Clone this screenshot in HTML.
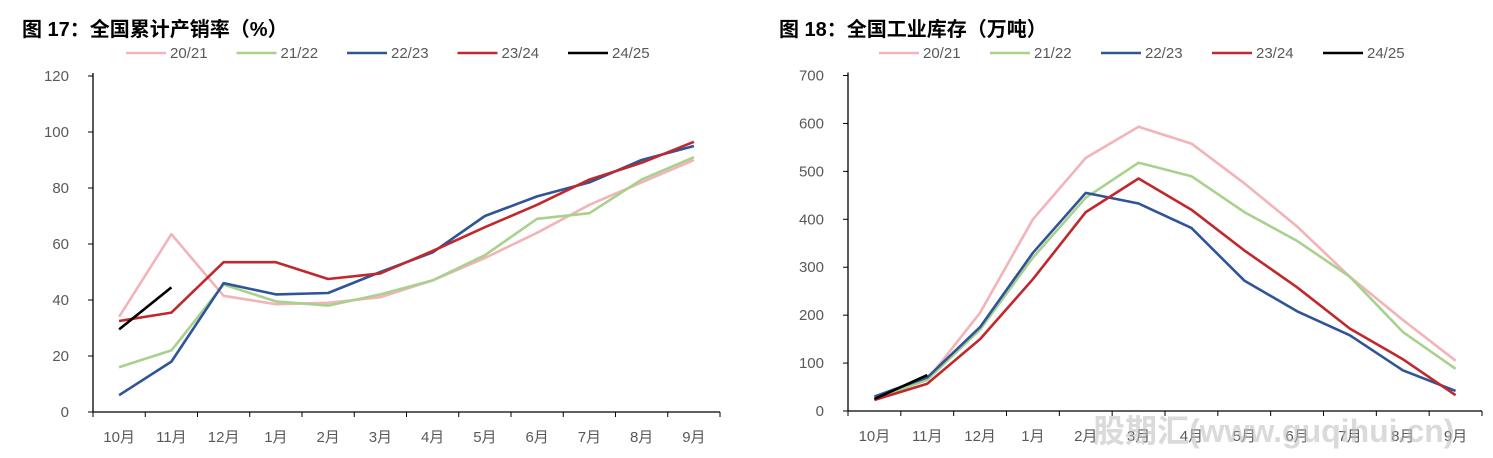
<!DOCTYPE html>
<html><head><meta charset="utf-8"><style>
html,body{margin:0;padding:0;background:#fff;}
svg{display:block;font-family:"Liberation Sans","Noto Sans CJK SC",sans-serif;}
</style></head><body>
<svg id="s" width="1493" height="458" viewBox="0 0 1493 458" xmlns="http://www.w3.org/2000/svg">
<text x="22" y="36" font-size="20" font-weight="bold" fill="#000">图 17：全国累计产销率（%）</text>
<text x="779" y="36" font-size="20" font-weight="bold" fill="#000">图 18：全国工业库存（万吨）</text>
<g id="g"></g>
<text x="1093" y="442" font-size="32" font-weight="bold" fill="#bbb" fill-opacity="0.55" font-family="'Liberation Sans','Noto Sans CJK SC',sans-serif">股期汇(www.guqihui.cn)</text>
</svg>
<script>
var NS="http://www.w3.org/2000/svg",g=document.getElementById("g");
function el(t,a,txt){var e=document.createElementNS(NS,t);for(var k in a)e.setAttribute(k,a[k]);if(txt!=null)e.textContent=txt;g.appendChild(e);return e;}
var months=["10月","11月","12月","1月","2月","3月","4月","5月","6月","7月","8月","9月"];
var cols=["#f2b4b9","#a9d18e","#2f5597","#c0282d","#000"];
var names=["20/21","21/22","22/23","23/24","24/25"];
function chart(c){
  var x0=c.x0,x1=c.x1,y0=c.y0,y1=c.y1,cw=(x1-x0)/12;
  el("line",{x1:x0,y1:y1-3,x2:x0,y2:y0,stroke:"#000","stroke-width":1.3});
  el("line",{x1:x0,y1:y0,x2:x1,y2:y0,stroke:"#000","stroke-width":1.3});
  for(var i=0;i<=12;i++){var x=x0+i*cw;el("line",{x1:x,y1:y0,x2:x,y2:y0+5,stroke:"#000","stroke-width":1});}
  for(var i=0;i<12;i++)el("text",{x:x0+(i+0.5)*cw,y:y0+30,"font-size":15,fill:"#595959","text-anchor":"middle"},months[i]);
  for(var v=0;v<=c.max;v+=c.step){var y=y0-(y0-y1)*v/c.max;
    el("line",{x1:x0-5,y1:y,x2:x0,y2:y,stroke:"#000","stroke-width":1});
    el("text",{x:x0-24,y:y+5,"font-size":15,fill:"#595959","text-anchor":"end"},v);}
  c.data.forEach(function(d,k){var p=d.map(function(v,i){return (x0+(i+0.5)*cw).toFixed(1)+","+(y0-(y0-y1)*v/c.max).toFixed(1);}).join(" ");
    el("polyline",{points:p,fill:"none",stroke:cols[k],"stroke-width":2.6,"stroke-linejoin":"round"});});
  for(var k=0;k<5;k++){var lx=c.lx+k*c.ls;
    el("line",{x1:lx,y1:c.ly,x2:lx+40,y2:c.ly,stroke:cols[k],"stroke-width":2.6});
    el("text",{x:lx+44,y:c.ly+5,"font-size":15,fill:"#595959"},names[k]);}
}
chart({x0:93,x1:720,y0:412,y1:76,max:120,step:20,lx:126,ls:110.5,ly:53,data:[
[34,63.5,41.5,38.5,39,41,47,55,64,74,82,90],
[16,22,45.5,39.5,38,42,47,56,69,71,83,91],
[6,18,46,42,42.5,50,57,70,77,82,90,95],
[32.5,35.5,53.5,53.5,47.5,49.5,57.5,66,74,83,89,96.5],
[29.5,44.5]]});
chart({x0:848,x1:1482,y0:411,y1:75.5,max:700,step:100,lx:879,ls:111,ly:53,data:[
[25,65,205,400,528,593,558,475,385,280,190,105],
[25,65,170,320,445,518,490,415,355,280,165,88],
[30,70,175,330,455,433,382,272,208,158,85,42],
[23,57,150,275,415,485,420,335,258,172,108,33],
[25,75]]});
</script>
</body></html>
